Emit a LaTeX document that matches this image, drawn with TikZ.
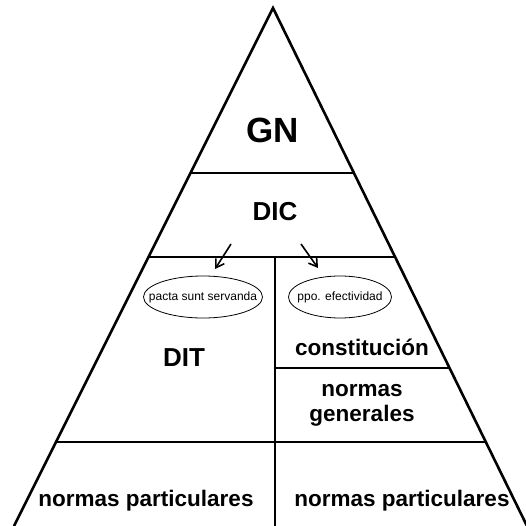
\documentclass[tikz,border=0pt]{standalone}
\usepackage{fontspec}
\setmainfont{Liberation Sans}
\usetikzlibrary{shapes,arrows.meta}

\tikzset{
	big/.style={font=\bfseries\fontsize{35}{35}\selectfont},
	mid/.style={font=\bfseries\fontsize{26}{26}\selectfont},
	norm/.style={font=\bfseries\fontsize{22.5}{25}\selectfont, align=center},
	princ/.style={inner sep=0pt, font=\fontsize{12}{12}\selectfont},
	flecha/.style={-{Straight Barb[length=8pt,width=10pt]}, line width=1.6pt},
}

\begin{document}
\begin{tikzpicture}[x=1pt,y=-1pt]
			\useasboundingbox (0,0) rectangle (525,526);
			% triangle
			\coordinate (top) at (273,8);
			\draw[line width=2.6pt] (14,526) -- (top) -- (527,526);
			
			% levels
			\draw[line width=1.6pt] (190.5,173) -- (353.9,173);
			\draw[line width=1.6pt] (148.5,257) -- (395,257);
			\draw[line width=1.6pt] (56,442) -- (485.7,442);
			\draw[line width=1.6pt] (275,257) -- (275,526);
			\draw[line width=1.6pt] (275,368) -- (449.4,368);
			
			\node[big] (gn) at (273,130) {GN};
			\node[mid] (dic) at (275,212) {DIC};
			\node[mid] (dit) at (184,358) {DIT};
			
			\node[princ] (pacta) at (203,297) {pacta sunt servanda};
			\node[princ] (efec) at (340,297) {ppo. efectividad};
			\draw[line width=.8pt] (pacta.center) ellipse [x radius=59.5, y radius=21];
			\draw[line width=.8pt] (efec.center) ellipse [x radius=51.5, y radius=21];
			
			\coordinate (l1) at (231,244);
			\coordinate (l2) at (215,269);
			\coordinate (r1) at (301,244);
			\coordinate (r2) at (318,268);
			\draw[flecha] (l1) -- (l2);
			\draw[flecha] (r1) -- (r2);
			
			\node[norm] (const) at (362,347) {constitución};
			\node[norm] (gen) at (362,405) {normas\\generales};
			\node[norm] (partl) at (146,501) {normas particulares};
			\node[norm] (partr) at (402,501) {normas particulares};
		\end{tikzpicture}
\end{document}
